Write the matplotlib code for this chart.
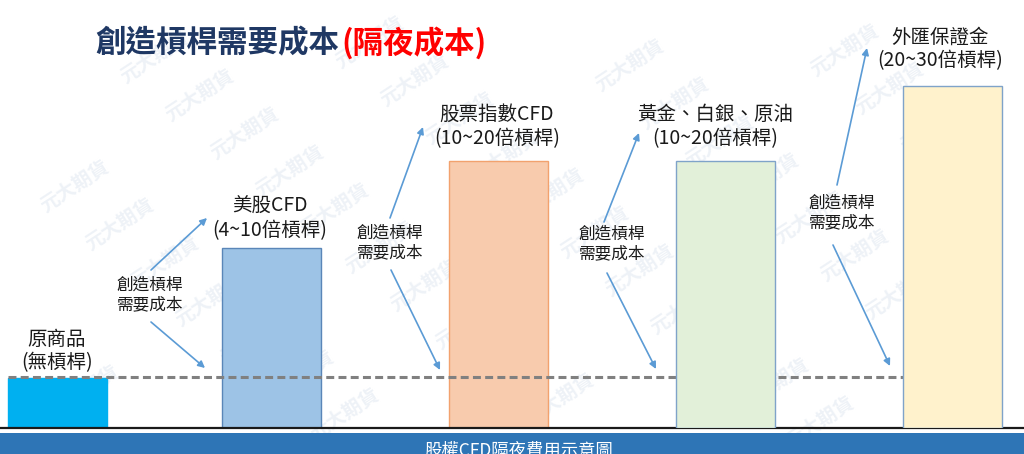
import matplotlib
matplotlib.use("Agg")
import matplotlib.pyplot as plt
from matplotlib.patches import Rectangle
from matplotlib.transforms import IdentityTransform

plt.rcParams['font.family'] = ['Noto Sans CJK TC', 'DejaVu Sans']

# ---- data ----
products = ['原商品', '美股CFD', '股票指數CFD', '黃金、白銀、原油', '外匯保證金']
leverage_labels = ['(無槓桿)', '(4~10倍槓桿)', '(10~20倍槓桿)', '(10~20倍槓桿)', '(20~30倍槓桿)']
cost_levels = [1.0, 3.6, 5.34, 5.34, 6.84]
base_cost = 1.02
fill_colors = ['#00B0F0', '#9DC3E6', '#F8CBAD', '#E2F0D9', '#FFF2CC']
edge_colors = ['#00B0F0', '#5A86B8', '#F2A26E', '#7FA3C9', '#7FA3C9']
arrow_note = '創造槓桿\n需要成本'
title_main = '創造槓桿需要成本'
title_red = '(隔夜成本)'
banner_text = '股權CFD隔夜費用示意圖'

W, H = 1024, 454
fig = plt.figure(figsize=(W / 100, H / 100), dpi=100)
fig.patch.set_facecolor('white')

# background watermark axes (pixel coords)
ax_bg = fig.add_axes([0, 0, 1, 1], zorder=0)
ax_bg.set_xlim(0, W)
ax_bg.set_ylim(H, 0)
ax_bg.axis('off')
for i in range(-4, 10):
    for j in range(-6, 16):
        cx = 200 + i * 170 + j * 45
        cy = 95 - i * 53 + j * 38
        if 50 < cx < W - 50 and 35 < cy < 425:
            ax_bg.text(cx, cy, '元大期貨', rotation=33, ha='center', va='center',
                       fontsize=14, fontweight='bold', color='#EEF2F7', zorder=0)

# bar axes (x in pixel layout units, y in cost units)
base_px = 428
ax = fig.add_axes([0, (H - base_px) / H, 1, base_px / H], zorder=1)
ax.patch.set_alpha(0)
bar_centers = [57, 271.5, 498.5, 725.5, 952.5]
width = 99
bars = ax.bar(bar_centers, cost_levels, width=width, color=fill_colors,
              edgecolor=edge_colors, linewidth=1.0)
for k, b in enumerate(bars):
    b.set_zorder(1 if k < 3 else 3)
ax.plot([bar_centers[0] - width / 2, bar_centers[-1] - width / 2], [base_cost, base_cost],
        color='#808080', lw=2.2, linestyle=(0, (2.6, 1.4)), zorder=2)
ax.set_xlim(0, W)
ax.set_ylim(0, base_px / 50)
for s in ['top', 'left', 'right']:
    ax.spines[s].set_visible(False)
ax.spines['bottom'].set_color('#1a1a1a')
ax.spines['bottom'].set_linewidth(1.6)
ax.set_xticks([])
ax.set_yticks([])

# overlay axes for annotations (pixel coords)
ov = fig.add_axes([0, 0, 1, 1], zorder=2)
ov.patch.set_alpha(0)
ov.set_xlim(0, W)
ov.set_ylim(H, 0)
ov.axis('off')

label_pos = [(57, 351), (270, 218.5), (497, 126.5), (715, 126.5), (940, 48.5)]
for (lx, ly), p, l in zip(label_pos, products, leverage_labels):
    ov.text(lx, ly, p + '\n' + l, ha='center', va='center', fontsize=14,
            color='#1a1a1a', linespacing=1.15)

note_pos = [(150, 295), (390, 243), (612, 244), (842, 213)]
for nx, ny in note_pos:
    ov.text(nx, ny, arrow_note, ha='center', va='center', fontsize=12,
            color='#1a1a1a', linespacing=1.2)

arrows = [((151, 270), (207, 218)), ((151, 322), (205, 368)),
          ((390, 218), (423, 127)), ((391, 270), (440, 370)),
          ((604, 222), (639, 133)), ((607, 273), (656, 369)),
          ((837, 185), (867, 48)), ((833, 245), (890, 366))]
for tail, head in arrows:
    ov.annotate('', xy=head, xytext=tail,
                arrowprops=dict(arrowstyle='-|>', color='#5B9BD5', lw=1.2,
                                mutation_scale=10, shrinkA=0, shrinkB=0))

# title
t1 = ov.text(95, 43, title_main, ha='left', va='center', fontsize=22,
             fontweight='bold', color='#1F3864')
fig.canvas.draw()
bb = t1.get_window_extent(renderer=fig.canvas.get_renderer())
t2 = ov.text(0, 0, title_red, ha='left', va='center', fontsize=22,
             fontweight='bold', color='#FF0000')
t2.set_transform(IdentityTransform())
t2.set_position((bb.x1 + 2, H - 43))

# bottom banner
fig.patches.append(Rectangle((0, 0), 1, (H - 433) / H, transform=fig.transFigure,
                             facecolor='#2E75B6', edgecolor='none', zorder=5))
fig.text(519 / W, 1 - 442 / H, banner_text, ha='center', va='top', fontsize=12.5,
         color='white', zorder=6)

fig.savefig('out.png', dpi=100)
